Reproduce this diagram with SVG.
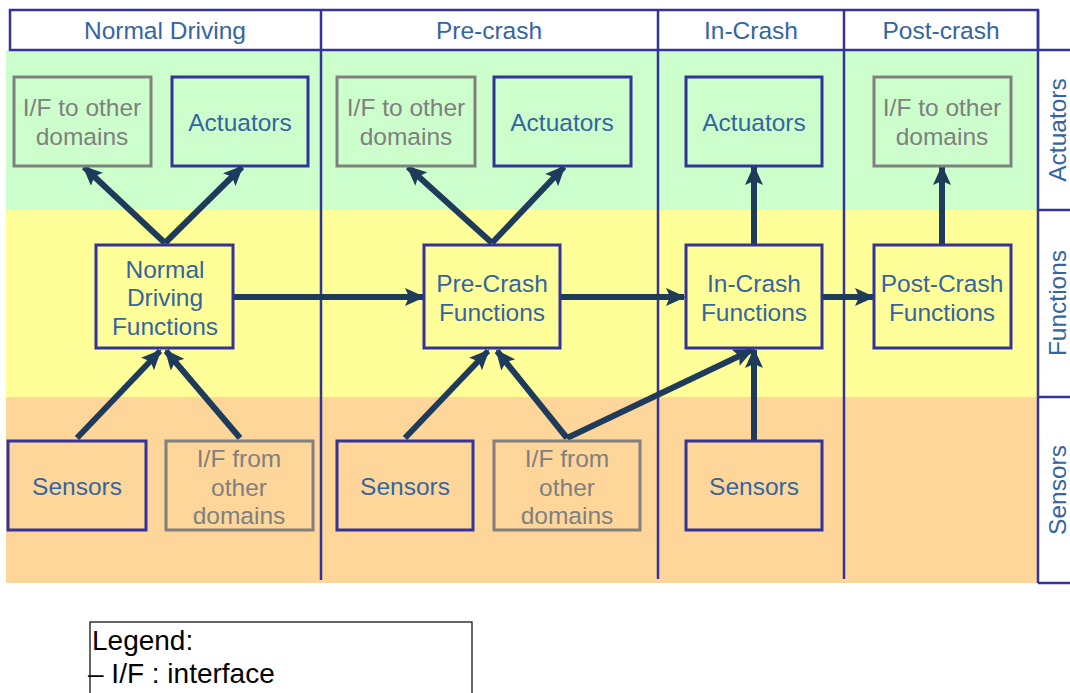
<svg xmlns="http://www.w3.org/2000/svg" width="1070" height="693" viewBox="0 0 1070 693">
<defs>
<style>
.t{font-family:"Liberation Sans",Arial,sans-serif;font-size:24.5px;fill:#3465a0;text-anchor:middle}
.g{fill:#808080}
.nb{fill:none;stroke:#333399;stroke-width:3}
.ng{fill:none;stroke:#808080;stroke-width:3}
.ln{stroke:#333399;stroke-width:2.5;fill:none}
.ar{stroke:#1f3b5c;stroke-width:6;fill:none;marker-end:url(#ah)}
.lg{font-family:"Liberation Sans",Arial,sans-serif;font-size:28px;fill:#000}
</style>
<marker id="ah" markerUnits="userSpaceOnUse" markerWidth="20" markerHeight="18" refX="18" refY="9" orient="auto">
<path d="M0,0 L20,9 L0,18 L4,9 Z" fill="#1f3b5c"/>
</marker>
</defs>
<rect width="1070" height="693" fill="#fff"/>
<g id="bands">
<rect x="6" y="50" width="1032" height="160" fill="#ccffcc"/>
<rect x="6" y="210" width="1032" height="187" fill="#ffff99"/>
<rect x="6" y="397" width="1032" height="186" fill="#ffd699"/>
</g>
<g id="header">
<rect x="10" y="10" width="1028" height="40" fill="#fff" class="ln"/>
<text class="t" x="165" y="39">Normal Driving</text>
<text class="t" x="489" y="39">Pre-crash</text>
<text class="t" x="751" y="39">In-Crash</text>
<text class="t" x="941" y="39">Post-crash</text>
</g>
<g id="lanes">
<line class="ln" x1="321" y1="10" x2="321" y2="580"/>
<line class="ln" x1="658" y1="10" x2="658" y2="579"/>
<line class="ln" x1="844" y1="10" x2="844" y2="579"/>
<line class="ln" x1="1038" y1="10" x2="1038" y2="583"/>
<line class="ln" x1="1038" y1="50" x2="1070" y2="50"/>
<line class="ln" x1="1038" y1="210" x2="1070" y2="210"/>
<line class="ln" x1="1038" y1="397" x2="1070" y2="397"/>
<line class="ln" x1="1038" y1="583" x2="1070" y2="583"/>
<text class="t" transform="translate(1066,130) rotate(-90)">Actuators</text>
<text class="t" transform="translate(1066,303) rotate(-90)">Functions</text>
<text class="t" transform="translate(1066,490) rotate(-90)">Sensors</text>
</g>
<g id="connectors">
<line class="ar" x1="165" y1="243" x2="84" y2="167"/>
<line class="ar" x1="165" y1="243" x2="242" y2="167"/>
<line class="ar" x1="77" y1="438" x2="160" y2="351"/>
<line class="ar" x1="240" y1="438" x2="166" y2="351"/>
<line class="ar" x1="233" y1="297" x2="423" y2="297"/>
<line class="ar" x1="492" y1="243" x2="408" y2="167"/>
<line class="ar" x1="492" y1="243" x2="564" y2="167"/>
<line class="ar" x1="405" y1="438" x2="488" y2="351"/>
<line class="ar" x1="567" y1="438" x2="497" y2="351"/>
<line class="ar" x1="567" y1="438" x2="752" y2="350"/>
<line class="ar" x1="560" y1="297" x2="684" y2="297"/>
<line class="ar" x1="822" y1="297" x2="873" y2="297"/>
<line class="ar" x1="754" y1="245" x2="754" y2="167"/>
<line class="ar" x1="754" y1="441" x2="754" y2="350"/>
<line class="ar" x1="942" y1="245" x2="942" y2="167"/>
</g>
<g id="nd-if-to">
<rect class="ng" x="14" y="77" width="137" height="89"/>
<text class="t g" x="82" y="116">I/F to other</text>
<text class="t g" x="82" y="145">domains</text>
</g>
<g id="nd-actuators">
<rect class="nb" x="172" y="77" width="136" height="89"/>
<text class="t" x="240" y="131">Actuators</text>
</g>
<g id="nd-functions">
<rect class="nb" x="96" y="245" width="137" height="103"/>
<text class="t" x="165" y="278">Normal</text>
<text class="t" x="165" y="306">Driving</text>
<text class="t" x="165" y="335">Functions</text>
</g>
<g id="nd-sensors">
<rect class="nb" x="8" y="441" width="138" height="89"/>
<text class="t" x="77" y="495">Sensors</text>
</g>
<g id="nd-if-from">
<rect class="ng" x="166" y="441" width="147" height="89"/>
<text class="t g" x="239" y="467">I/F from</text>
<text class="t g" x="239" y="496">other</text>
<text class="t g" x="239" y="524">domains</text>
</g>
<g id="pc-if-to">
<rect class="ng" x="337" y="77" width="138" height="89"/>
<text class="t g" x="406" y="116">I/F to other</text>
<text class="t g" x="406" y="145">domains</text>
</g>
<g id="pc-actuators">
<rect class="nb" x="494" y="77" width="137" height="89"/>
<text class="t" x="562" y="131">Actuators</text>
</g>
<g id="pc-functions">
<rect class="nb" x="424" y="245" width="136" height="103"/>
<text class="t" x="492" y="292">Pre-Crash</text>
<text class="t" x="492" y="321">Functions</text>
</g>
<g id="pc-sensors">
<rect class="nb" x="337" y="441" width="136" height="89"/>
<text class="t" x="405" y="495">Sensors</text>
</g>
<g id="pc-if-from">
<rect class="ng" x="494" y="441" width="146" height="89"/>
<text class="t g" x="567" y="467">I/F from</text>
<text class="t g" x="567" y="496">other</text>
<text class="t g" x="567" y="524">domains</text>
</g>
<g id="ic-actuators">
<rect class="nb" x="686" y="77" width="136" height="89"/>
<text class="t" x="754" y="131">Actuators</text>
</g>
<g id="ic-functions">
<rect class="nb" x="686" y="245" width="136" height="103"/>
<text class="t" x="754" y="292">In-Crash</text>
<text class="t" x="754" y="321">Functions</text>
</g>
<g id="ic-sensors">
<rect class="nb" x="686" y="441" width="136" height="89"/>
<text class="t" x="754" y="495">Sensors</text>
</g>
<g id="po-if-to">
<rect class="ng" x="874" y="77" width="137" height="89"/>
<text class="t g" x="942" y="116">I/F to other</text>
<text class="t g" x="942" y="145">domains</text>
</g>
<g id="po-functions">
<rect class="nb" x="874" y="245" width="137" height="103"/>
<text class="t" x="942" y="292">Post-Crash</text>
<text class="t" x="942" y="321">Functions</text>
</g>
<g id="legend">
<rect x="90" y="622" width="382" height="80" fill="#fff" stroke="#000" stroke-width="1.2"/>
<text class="lg" x="92" y="650">Legend:</text>
<text class="lg" x="88" y="683">– I/F : interface</text>
</g>
</svg>
